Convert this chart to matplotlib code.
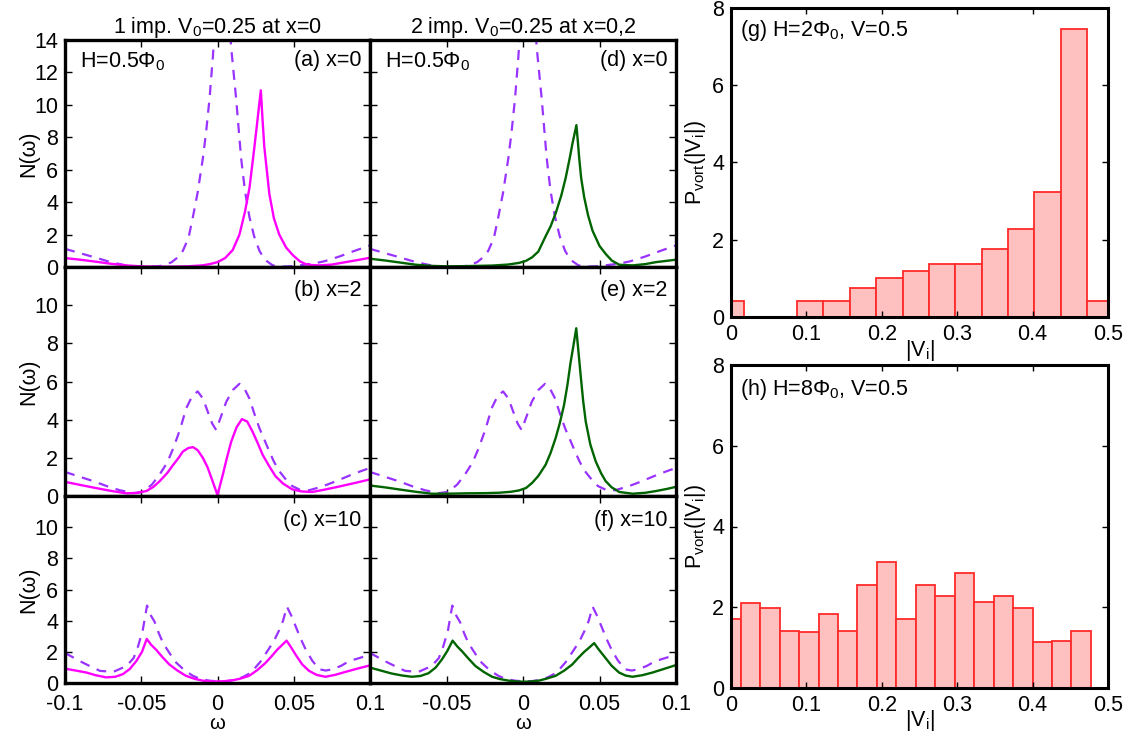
import matplotlib
matplotlib.use('Agg')
import matplotlib.pyplot as plt

plt.rcParams['font.family'] = ['Liberation Sans', 'DejaVu Sans']
plt.rcParams['mathtext.fontset'] = 'custom'
plt.rcParams['mathtext.rm'] = 'Liberation Sans'
plt.rcParams['mathtext.it'] = 'Liberation Sans'

# ── data: clean-system DOS (dashed) ───────────────────────────────────────────
clean0_w = [-0.1, -0.09, -0.08, -0.07, -0.06, -0.05, -0.04, -0.035, -0.03, -0.026,
            -0.0227, -0.019, -0.0161, -0.013, -0.0096, -0.0075, -0.0052, -0.003, 0.0, 0.003,
            0.006, 0.009, 0.0122, 0.0155, 0.018, 0.0209, 0.024, 0.0275, 0.031, 0.0362,
            0.042, 0.0492, 0.0623, 0.07, 0.08, 0.09, 0.1]
clean0_n = [1.12, 0.85, 0.58, 0.3, 0.1, 0.02, 0.03, 0.1, 0.3, 0.6,
            1.0, 1.8, 3.1, 4.6, 6.7, 8.3, 10.4, 13.0, 17.5, 22.0,
            17.5, 13.5, 10.4, 6.7, 4.7, 3.1, 1.9, 1.0, 0.45, 0.1,
            0.02, 0.05, 0.2, 0.35, 0.65, 1.0, 1.33]

clean2_w = [-0.1, -0.09, -0.0815, -0.072, -0.064, -0.055, -0.0488, -0.043, -0.038, -0.033,
            -0.029, -0.0245, -0.0205, -0.0165, -0.013, -0.0095, -0.0063, -0.0035, -0.0009, 0.002,
            0.0057, 0.01, 0.0144, 0.0175, 0.021, 0.024, 0.0275, 0.031, 0.034, 0.037,
            0.0405, 0.045, 0.049, 0.054, 0.06, 0.068, 0.075, 0.082, 0.088, 0.094, 0.1]
clean2_n = [1.26, 1.0, 0.78, 0.5, 0.3, 0.15, 0.22, 0.6, 1.12, 1.75,
            2.5, 3.5, 4.6, 5.25, 5.48, 5.1, 4.4, 3.8, 3.46, 4.1,
            4.93, 5.55, 5.88, 5.65, 5.1, 4.35, 3.55, 2.9, 2.33, 1.8,
            1.3, 0.85, 0.52, 0.33, 0.3, 0.48, 0.69, 0.92, 1.12, 1.3, 1.47]

clean10_w = [-0.1, -0.0902, -0.083, -0.0771, -0.0684, -0.0597, -0.055, -0.0521, -0.049, -0.0462,
             -0.0435, -0.0412, -0.0385, -0.0357, -0.031, -0.027, -0.0215, -0.0161, -0.011, -0.0052,
             0.0013, 0.0065, 0.0122, 0.017, 0.022, 0.028, 0.034, 0.0375, 0.0405, 0.043,
             0.0455, 0.0485, 0.0514, 0.0545, 0.0579, 0.062, 0.0667, 0.071, 0.0754, 0.081,
             0.0863, 0.093, 0.1]
clean10_n = [1.93, 1.4, 1.05, 0.78, 0.71, 1.09, 1.6, 2.35, 3.4, 4.97,
             4.3, 3.92, 3.2, 2.56, 1.85, 1.3, 0.8, 0.46, 0.25, 0.15,
             0.1, 0.13, 0.21, 0.4, 0.67, 1.35, 2.24, 2.8, 3.4, 4.0,
             4.9, 4.3, 3.6, 2.85, 2.14, 1.45, 0.88, 0.8, 0.88, 1.1,
             1.4, 1.6, 1.82]

# ── data: one impurity (magenta) ──────────────────────────────────────────────
imp1_x0_w = [-0.1, -0.09, -0.08, -0.07, -0.06, -0.05, -0.04, -0.03, -0.02, -0.01,
             -0.005, 0.0, 0.005, 0.01, 0.0144, 0.018, 0.0198, 0.021, 0.0242, 0.0265,
             0.0284, 0.0296, 0.0307, 0.034, 0.037, 0.0405, 0.045, 0.0492, 0.054, 0.058,
             0.062, 0.067, 0.075, 0.084, 0.092, 0.1]
imp1_x0_n = [0.55, 0.45, 0.33, 0.2, 0.1, 0.04, 0.02, 0.02, 0.04, 0.1,
             0.18, 0.3, 0.55, 1.05, 2.0, 3.4, 4.3, 4.9, 7.4, 9.3,
             10.9, 9.0, 7.4, 4.5, 3.0, 2.0, 1.2, 0.75, 0.35, 0.17,
             0.12, 0.1, 0.15, 0.3, 0.43, 0.57]

imp1_x2_w = [-0.1, -0.09, -0.08, -0.07, -0.0597, -0.053, -0.0466, -0.042, -0.0379, -0.033,
             -0.029, -0.0255, -0.0227, -0.019, -0.016, -0.013, -0.0096, -0.0065, -0.004, -0.002,
             0.0, 0.0018, 0.0035, 0.006, 0.009, 0.0125, 0.016, 0.0195, 0.023, 0.0265,
             0.0296, 0.034, 0.038, 0.043, 0.049, 0.055, 0.062, 0.07, 0.08, 0.09, 0.1]
imp1_x2_n = [0.74, 0.58, 0.42, 0.27, 0.14, 0.16, 0.26, 0.48, 0.78, 1.2,
             1.64, 2.0, 2.33, 2.52, 2.56, 2.4, 2.0, 1.5, 0.95, 0.5,
             0.05, 0.6, 1.12, 1.95, 2.85, 3.6, 4.03, 3.9, 3.37, 2.75,
             2.16, 1.55, 1.04, 0.65, 0.35, 0.24, 0.21, 0.33, 0.5, 0.68, 0.87]

imp1_x10_w = [-0.1, -0.093, -0.0859, -0.08, -0.073, -0.067, -0.062, -0.0575, -0.0533, -0.0495,
              -0.0464, -0.0435, -0.0403, -0.036, -0.0316, -0.026, -0.0207, -0.015, -0.0098, -0.005,
              0.0, 0.005, 0.0098, 0.015, 0.0207, 0.026, 0.0316, 0.0355, 0.0392, 0.0425,
              0.0453, 0.0485, 0.0512, 0.0555, 0.06, 0.065, 0.0707, 0.077, 0.0838, 0.092, 0.1]
imp1_x10_n = [0.92, 0.8, 0.67, 0.5, 0.36, 0.4, 0.57, 0.9, 1.4, 2.0,
              2.83, 2.45, 2.14, 1.65, 1.19, 0.78, 0.46, 0.27, 0.15, 0.11,
              0.1, 0.12, 0.17, 0.28, 0.46, 0.82, 1.3, 1.72, 2.14, 2.45,
              2.72, 2.25, 1.82, 1.2, 0.78, 0.52, 0.4, 0.52, 0.71, 0.93, 1.13]

# ── data: two impurities (green) ──────────────────────────────────────────────
imp2_x0_w = [-0.1, -0.09, -0.08, -0.07, -0.06, -0.05, -0.04, -0.03, -0.02, -0.01,
             -0.0027, 0.002, 0.006, 0.01, 0.0148, 0.018, 0.0213, 0.025, 0.0279, 0.0305,
             0.0323, 0.0349, 0.0358, 0.0367, 0.038, 0.04, 0.0425, 0.0454, 0.05, 0.0541,
             0.058, 0.0629, 0.0716, 0.08, 0.0869, 0.1]
imp2_x0_n = [0.51, 0.4, 0.27, 0.14, 0.07, 0.04, 0.05, 0.07, 0.09, 0.15,
             0.25, 0.38, 0.6, 0.95, 1.9, 2.5, 3.3, 4.4, 5.5, 6.7,
             7.6, 8.75, 7.8, 6.75, 5.5, 4.3, 3.2, 2.25, 1.3, 0.8,
             0.4, 0.14, 0.1, 0.18, 0.3, 0.45]

imp2_x2_w = [-0.1, -0.09, -0.0815, -0.07, -0.0596, -0.05, -0.0377, -0.025, -0.0159, -0.008,
             -0.0027, 0.002, 0.006, 0.01, 0.0148, 0.018, 0.0213, 0.024, 0.0268, 0.029,
             0.0311, 0.033, 0.0348, 0.0362, 0.0377, 0.0393, 0.041, 0.044, 0.0475, 0.051,
             0.054, 0.058, 0.063, 0.0717, 0.08, 0.087, 0.094, 0.1]
imp2_x2_n = [0.55, 0.45, 0.35, 0.22, 0.12, 0.12, 0.14, 0.15, 0.17, 0.22,
             0.29, 0.42, 0.69, 1.05, 1.64, 2.25, 3.03, 3.8, 4.76, 5.8,
             7.0, 7.9, 8.79, 7.6, 6.31, 5.0, 3.9, 2.7, 1.82, 1.2,
             0.78, 0.45, 0.21, 0.12, 0.17, 0.26, 0.37, 0.48]

imp2_x10_w = [-0.1, -0.093, -0.0859, -0.079, -0.0727, -0.067, -0.0617, -0.057, -0.053, -0.0495,
              -0.046, -0.043, -0.0398, -0.0355, -0.0311, -0.0255, -0.0202, -0.015, -0.0093, -0.004,
              0.0005, 0.005, 0.0103, 0.015, 0.0213, 0.027, 0.0322, 0.036, 0.0399, 0.043,
              0.0465, 0.0495, 0.053, 0.058, 0.0628, 0.067, 0.0715, 0.078, 0.0846, 0.092, 0.1]
imp2_x10_n = [0.99, 0.8, 0.61, 0.48, 0.4, 0.45, 0.63, 1.0, 1.51, 2.05,
              2.72, 2.35, 2.03, 1.55, 1.09, 0.7, 0.4, 0.25, 0.15, 0.1,
              0.08, 0.1, 0.15, 0.27, 0.46, 0.8, 1.19, 1.6, 1.99, 2.25,
              2.56, 2.15, 1.72, 1.1, 0.67, 0.48, 0.4, 0.5, 0.67, 0.9, 1.15]

# ── data: vortex-core potential histograms ────────────────────────────────────
hist_g_v = [0.0, 0.035, 0.07, 0.105, 0.14, 0.175, 0.21, 0.245, 0.28, 0.315,
            0.35, 0.385, 0.42, 0.455, 0.49]
hist_g_p = [0.42, 0.0, 0.0, 0.42, 0.42, 0.76, 1.0, 1.19, 1.36, 1.36,
            1.76, 2.29, 3.24, 7.46, 0.42]
hist_h_v = [0.0, 0.0258, 0.0516, 0.0774, 0.1032, 0.129, 0.1548, 0.1806, 0.2064, 0.2322,
            0.258, 0.2838, 0.3096, 0.3354, 0.3612, 0.387, 0.4128, 0.4386, 0.4644]
hist_h_p = [1.71, 2.11, 1.99, 1.41, 1.39, 1.84, 1.41, 2.56, 3.13, 1.71,
            2.56, 2.28, 2.85, 2.13, 2.28, 1.99, 1.13, 1.17, 1.41]

MAGENTA = '#ff00ff'
GREEN = '#006400'
PURPLE = '#9933ff'
FS = 15.5

W, H = 1128, 737
fig = plt.figure(figsize=(W / 100, H / 100), dpi=100)


def box(x0, y0, x1, y1):
    # pixel box (top-left origin) -> figure fraction axes
    return fig.add_axes([x0 / W, 1 - y1 / H, (x1 - x0) / W, (y1 - y0) / H])


def style(ax, lw=2.4, tl=5):
    for s in ax.spines.values():
        s.set_linewidth(lw)
    ax.tick_params(direction='in', top=True, right=True, length=tl, width=1,
                   labelsize=FS, pad=5)


cols_x = [(65, 370), (370, 676)]
rows_y = [(40, 267), (267, 496), (496, 683)]
clean = [(clean0_w, clean0_n), (clean2_w, clean2_n), (clean10_w, clean10_n)]
imps = [[(imp1_x0_w, imp1_x0_n), (imp1_x2_w, imp1_x2_n), (imp1_x10_w, imp1_x10_n)],
        [(imp2_x0_w, imp2_x0_n), (imp2_x2_w, imp2_x2_n), (imp2_x10_w, imp2_x10_n)]]
colors = [MAGENTA, GREEN]
tags = [['(a) x=0', '(b) x=2', '(c) x=10'], ['(d) x=0', '(e) x=2', '(f) x=10']]
tag_y = [0.955, 0.945, 0.925]
titles = ['1 imp. V$_0$=0.25 at x=0', '2 imp. V$_0$=0.25 at x=0,2']

for c, (x0, x1) in enumerate(cols_x):
    for r, (y0, y1) in enumerate(rows_y):
        ax = box(x0, y0, x1, y1)
        style(ax)
        ax.plot(clean[r][0], clean[r][1], color=PURPLE, lw=1.6, ls=(0, (4.5, 3.5)))
        ax.plot(imps[c][r][0], imps[c][r][1], color=colors[c], lw=1.7)
        ax.set_xlim(-0.1, 0.1)
        ax.set_xticks([-0.1, -0.05, 0, 0.05, 0.1])
        if r == 0:
            ax.set_ylim(0, 14)
            ax.set_yticks(range(0, 15, 2))
        else:
            ax.set_ylim(0, 12)
            ax.set_yticks(range(0, 11, 2))
        if r < 2:
            ax.set_xticklabels([])
        else:
            ax.tick_params(axis='x', pad=8)
            ax.set_xticklabels(['-0.1', '-0.05', '0', '0.05', '0.1'] if c == 0
                               else ['', '-0.05', '0', '0.05', '0.1'])
            ax.set_xlabel('ω', fontsize=14.5)
            ax.xaxis.set_label_coords(0.5, -0.168)
        if c == 0:
            ax.set_ylabel('N(ω)', fontsize=FS)
            ax.yaxis.set_label_coords(-0.085, 0.5)
        else:
            ax.set_yticklabels([])
        ax.text(0.972, tag_y[r], tags[c][r], transform=ax.transAxes,
                ha='right', va='top', fontsize=FS)
        if r == 0:
            ax.text(0.05, tag_y[r], 'H=0.5Φ$_0$', transform=ax.transAxes,
                    ha='left', va='top', fontsize=FS)
            ax.set_title(titles[c], fontsize=FS, pad=5)

# ── histograms ────────────────────────────────────────────────────────────────
hists = [(hist_g_v, hist_g_p, 0.035, '(g) H=2Φ$_0$, V=0.5', (8, 317), 0.968, -0.068),
         (hist_h_v, hist_h_p, 0.0258, '(h) H=8Φ$_0$, V=0.5', (365, 688), 0.963, -0.062)]
for v, p, bw, label, (y0, y1), ty, xl in hists:
    ax = box(731, y0, 1108, y1)
    style(ax, lw=2.2, tl=4)
    ax.bar(v, p, width=bw, color='#ffc0c0', edgecolor='#ff2a2a', linewidth=1.3)
    ax.set_xlim(0, 0.5)
    ax.set_ylim(0, 8)
    ax.set_xticks([0, 0.1, 0.2, 0.3, 0.4, 0.5])
    ax.set_xticklabels(['0', '0.1', '0.2', '0.3', '0.4', '0.5'])
    ax.set_yticks([0, 2, 4, 6, 8])
    ax.set_xlabel('|V$_i$|', fontsize=FS)
    ax.xaxis.set_label_coords(0.5, xl)
    ax.set_ylabel('P$_{vort}$(|V$_i$|)', fontsize=FS)
    ax.yaxis.set_label_coords(-0.062, 0.5)
    ax.text(0.024, ty, label, transform=ax.transAxes, ha='left', va='top', fontsize=FS)

fig.savefig('out.png', dpi=100)
